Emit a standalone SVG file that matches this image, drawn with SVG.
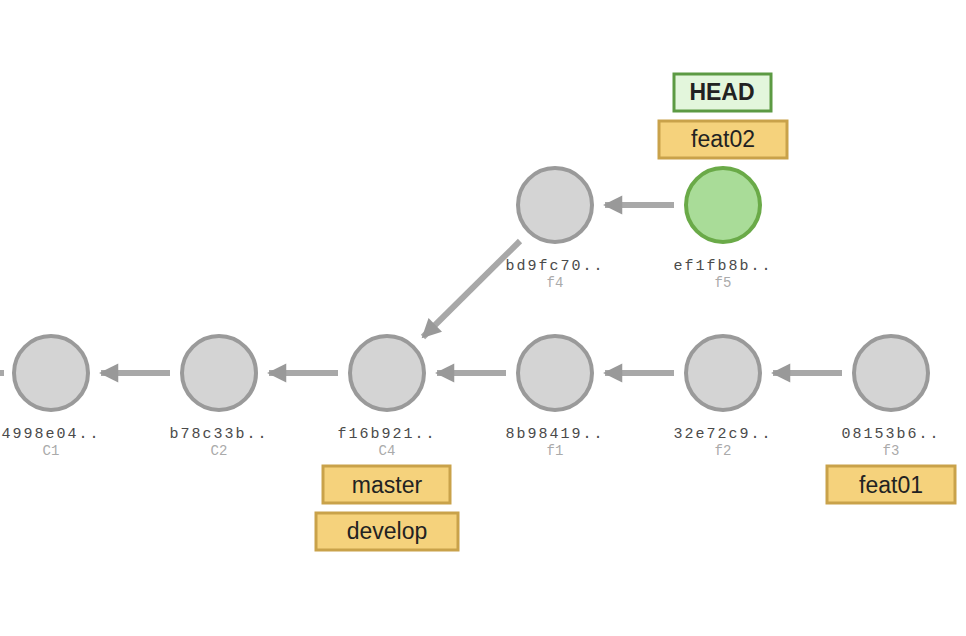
<svg xmlns="http://www.w3.org/2000/svg" width="966" height="636" viewBox="0 0 966 636">
<style>
.c{fill:#d4d4d4;stroke:#9a9a9a;stroke-width:4}
.g{fill:#a9dc98;stroke:#6aaa48;stroke-width:4}
.h{font-family:"Liberation Mono",monospace;font-size:15px;letter-spacing:2px;fill:#4a4a4a;text-anchor:middle}
.s{font-family:"Liberation Mono",monospace;font-size:14px;fill:#aaa;text-anchor:middle}
.b{fill:#f5d27c;stroke:#c9a24a;stroke-width:3}
.bt{font-family:"Liberation Sans",Arial,sans-serif;font-size:23px;fill:#222;text-anchor:middle}
.e{stroke:#a8a8a8;stroke-width:6;fill:none;marker-end:url(#a)}
</style>
<defs>
<marker id="a" viewBox="0 0 10 10" refX="9" refY="5" markerWidth="3.4" markerHeight="3.2" orient="auto" markerUnits="strokeWidth">
<path d="M0,0L10,5L0,10z" fill="#999"/>
</marker>
</defs>
<rect width="966" height="636" fill="#fff"/>
<g id="connectors">
<line x1="0" y1="373" x2="4" y2="373" stroke="#a8a8a8" stroke-width="6"/>
<line class="e" x1="170" y1="373" x2="101" y2="373"/>
<line class="e" x1="338" y1="373" x2="269" y2="373"/>
<line class="e" x1="506" y1="373" x2="437" y2="373"/>
<line class="e" x1="674" y1="373" x2="605" y2="373"/>
<line class="e" x1="842" y1="373" x2="773" y2="373"/>
<line class="e" x1="674" y1="205" x2="605" y2="205"/>
<line class="e" x1="520" y1="241" x2="423" y2="337"/>
</g>
<g id="C1"><circle class="c" cx="51" cy="373" r="37"/><text class="h" x="51" y="438">4998e04..</text><text class="s" x="51" y="455">C1</text></g>
<g id="C2"><circle class="c" cx="219" cy="373" r="37"/><text class="h" x="219" y="438">b78c33b..</text><text class="s" x="219" y="455">C2</text></g>
<g id="C4"><circle class="c" cx="387" cy="373" r="37"/><text class="h" x="387" y="438">f16b921..</text><text class="s" x="387" y="455">C4</text></g>
<g id="f1"><circle class="c" cx="555" cy="373" r="37"/><text class="h" x="555" y="438">8b98419..</text><text class="s" x="555" y="455">f1</text></g>
<g id="f2"><circle class="c" cx="723" cy="373" r="37"/><text class="h" x="723" y="438">32e72c9..</text><text class="s" x="723" y="455">f2</text></g>
<g id="f3"><circle class="c" cx="891" cy="373" r="37"/><text class="h" x="891" y="438">08153b6..</text><text class="s" x="891" y="455">f3</text></g>
<g id="f4"><circle class="c" cx="555" cy="205" r="37"/><text class="h" x="555" y="270">bd9fc70..</text><text class="s" x="555" y="287">f4</text></g>
<g id="f5"><circle class="g" cx="723" cy="205" r="37"/><text class="h" x="723" y="270">ef1fb8b..</text><text class="s" x="723" y="287">f5</text></g>
<g id="master"><rect class="b" x="323" y="466" width="127" height="37"/><text class="bt" x="387" y="493">master</text></g>
<g id="develop"><rect class="b" x="316" y="513" width="142" height="37"/><text class="bt" x="387" y="539">develop</text></g>
<g id="feat01"><rect class="b" x="827" y="466" width="128" height="37"/><text class="bt" x="891" y="493">feat01</text></g>
<g id="feat02"><rect class="b" x="659" y="121" width="128" height="37"/><text class="bt" x="723" y="147">feat02</text></g>
<g id="HEAD"><rect x="674" y="74" width="97" height="37" fill="#e3f6dc" stroke="#5c9a43" stroke-width="3"/><text class="bt" x="722" y="100" font-weight="bold" fill="#111">HEAD</text></g>
</svg>
